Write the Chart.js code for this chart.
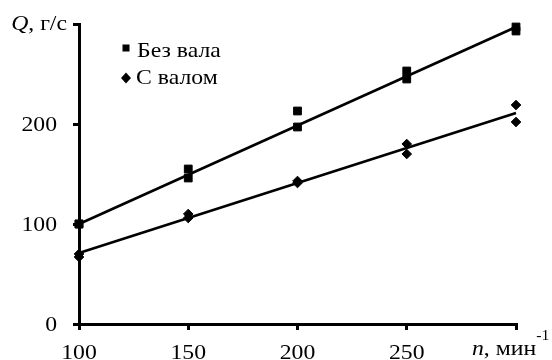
<!DOCTYPE html>
<html>
<head>
<meta charset="utf-8">
<script src="https://cdn.jsdelivr.net/npm/chart.js@4/dist/chart.umd.min.js"></script>
<style>
  html, body { margin: 0; padding: 0; background: #fff; }
  #wrap { width: 552px; height: 360px; }
</style>
</head>
<body>
<div id="wrap"><canvas id="qChart" width="552" height="360"></canvas></div>
<script>
// частота вращения n, мин-1 (по два замера на режим)
const rpm = [100, 100, 150, 150, 200, 200, 250, 250, 300, 300];
// расход Q, г/с
const flowNoShaft = [100, 100, 155, 146, 213, 197, 253, 245, 297, 293];
const flowShaft = [70, 67, 110, 106, 143, 141, 180, 170, 219, 202];
// линии тренда: значения на концах (n = 100 и n = 300)
const trendX = [100, 300];
const trendNoShaft = [100, 297];
const trendShaft = [71, 211];

const seriesNames = ["Без вала", "С валом"];
const xTicks = [100, 150, 200, 250];
const yTicks = [0, 100, 200];

const serif = "'Liberation Serif', 'Times New Roman', serif";
const fontSize = 21;
const stretch = 1.13; // шрифт на исходной картинке чуть растянут по горизонтали

const toPoints = (xs, ys) => xs.map((x, i) => ({ x: x, y: ys[i] }));

// рисует строку из кусков с разными шрифтами (базовая линия alphabetic)
function drawRich(ctx, parts, x, y, align) {
  ctx.save();
  ctx.textBaseline = "alphabetic";
  ctx.textAlign = "left";
  let total = 0;
  parts.forEach((p) => { ctx.font = p.font; total += ctx.measureText(p.text).width * stretch; });
  let cx = x;
  if (align === "right") cx = x - total;
  if (align === "center") cx = x - total / 2;
  parts.forEach((p) => {
    ctx.font = p.font;
    ctx.save();
    ctx.translate(cx, y + (p.dy || 0));
    ctx.scale(stretch, 1);
    ctx.fillText(p.text, 0, 0);
    ctx.restore();
    cx += ctx.measureText(p.text).width * stretch;
  });
  ctx.restore();
}

const labelsPlugin = {
  id: "labels",
  afterDraw(chart) {
    const ctx = chart.ctx;
    const area = chart.chartArea;
    const xs = chart.scales.x, ys = chart.scales.y;
    ctx.fillStyle = "#000";
    const reg = fontSize + "px " + serif;
    const ital = "italic " + fontSize + "px " + serif;

    // подписи делений
    xTicks.forEach((v) => {
      drawRich(ctx, [{ text: String(v), font: reg }], xs.getPixelForValue(v), area.bottom + 35, "center");
    });
    yTicks.forEach((v) => {
      drawRich(ctx, [{ text: String(v), font: reg }], area.left - 22, ys.getPixelForValue(v) + 7, "right");
    });

    // подписи осей
    drawRich(ctx, [{ text: "Q", font: ital }, { text: ", г/с", font: reg }], area.left - 12, area.top + 6, "right");
    drawRich(ctx, [
      { text: "n", font: ital },
      { text: ", мин", font: reg },
      { text: "-1", font: "14px " + serif, dy: -15 }
    ], 472, 355, "left");

    // легенда
    const lx = 126, ly = [48, 78];
    ctx.fillRect(lx - 3.5, ly[0] - 3.5, 7, 7);
    ctx.beginPath();
    ctx.moveTo(lx - 5, ly[1]);
    ctx.lineTo(lx, ly[1] - 5.5);
    ctx.lineTo(lx + 5, ly[1]);
    ctx.lineTo(lx, ly[1] + 5.5);
    ctx.closePath();
    ctx.fill();
    drawRich(ctx, [{ text: seriesNames[0], font: reg }], 137, 57, "left");
    drawRich(ctx, [{ text: seriesNames[1], font: reg }], 136, 84, "left");
  }
};

Chart.defaults.color = "#000";
Chart.defaults.font.family = serif;
Chart.defaults.font.size = fontSize;

const axisGrid = {
  display: true,
  drawOnChartArea: false,
  drawTicks: true,
  tickLength: 6,
  color: "#000",
  lineWidth: 3
};

new Chart(document.getElementById("qChart"), {
  type: "scatter",
  data: {
    datasets: [
      {
        label: seriesNames[0],
        data: toPoints(rpm, flowNoShaft),
        pointStyle: "rect",
        pointRadius: 5.5,
        pointBorderWidth: 1,
        backgroundColor: "#000",
        borderColor: "#000",
        clip: false
      },
      {
        label: seriesNames[1],
        data: toPoints(rpm, flowShaft),
        pointStyle: "rectRot",
        pointRadius: 4.8,
        pointBorderWidth: 1,
        backgroundColor: "#000",
        borderColor: "#000",
        clip: false
      },
      {
        label: "trend1",
        data: toPoints(trendX, trendNoShaft),
        showLine: true,
        pointRadius: 0,
        borderWidth: 2.6,
        borderColor: "#000",
        clip: false
      },
      {
        label: "trend2",
        data: toPoints(trendX, trendShaft),
        showLine: true,
        pointRadius: 0,
        borderWidth: 2.6,
        borderColor: "#000",
        clip: false
      }
    ]
  },
  options: {
    responsive: false,
    animation: false,
    devicePixelRatio: 1,
    layout: { padding: { top: 24, right: 36, left: 0, bottom: 0 } },
    plugins: {
      legend: { display: false },
      tooltip: { enabled: false }
    },
    scales: {
      x: {
        type: "linear",
        min: 100,
        max: 300,
        afterFit: (s) => { s.height = 36; },
        border: { display: true, color: "#000", width: 3 },
        grid: axisGrid,
        ticks: { stepSize: 50, display: false }
      },
      y: {
        type: "linear",
        min: 0,
        max: 300,
        afterFit: (s) => { s.width = 79; },
        border: { display: true, color: "#000", width: 3 },
        grid: axisGrid,
        ticks: { stepSize: 100, display: false }
      }
    }
  },
  plugins: [labelsPlugin]
});
</script>
</body>
</html>
